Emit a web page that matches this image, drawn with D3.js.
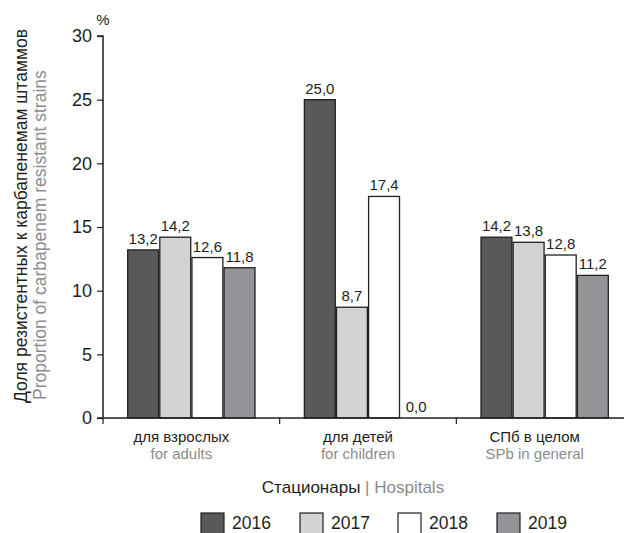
<!DOCTYPE html>
<html>
<head>
<meta charset="utf-8">
<script src="https://cdn.jsdelivr.net/npm/d3@7/dist/d3.min.js"></script>
<style>
  body { margin: 0; background: #fff; }
  svg { display: block; font-family: "Liberation Sans", Arial, sans-serif; }
</style>
</head>
<body>
<svg id="chart" width="624" height="533"></svg>
<script>
// Hospital groups (Russian / English captions)
const categoriesRu = ["для взрослых", "для детей", "СПб в целом"];
const categoriesEn = ["for adults", "for children", "SPb in general"];
const years = ["2016", "2017", "2018", "2019"];
// Share of carbapenem-resistant strains, %, per year across groups
const values2016 = [13.2, 25.0, 14.2];
const values2017 = [14.2, 8.7, 13.8];
const values2018 = [12.6, 17.4, 12.8];
const values2019 = [11.8, 0.0, 11.2];
const yTicks = [0, 5, 10, 15, 20, 25, 30];

const series = [values2016, values2017, values2018, values2019];
const colors = ["#58595b", "#d1d3d4", "#ffffff", "#929497"];
const stroke = "#231f20";
const grey = "#8a8c8e";

const svg = d3.select("#chart");

const x0 = d3.scaleBand().domain(d3.range(categoriesRu.length)).range([103, 633]);
const x1 = d3.scaleBand().domain(d3.range(years.length)).range([0, x0.bandwidth()]).paddingOuter(0.75);
const y = d3.scaleLinear().domain([0, 30]).range([418, 36]);

const fmt = v => v.toFixed(1).replace(".", ",");

// Bars
const groups = svg.append("g").selectAll("g")
  .data(categoriesRu.map((c, i) => i))
  .join("g")
  .attr("transform", i => `translate(${x0(i)},0)`);

groups.selectAll("rect")
  .data(i => series.map((s, k) => ({ k, v: s[i] })))
  .join("rect")
  .attr("x", d => x1(d.k) + 0.6)
  .attr("width", x1.bandwidth() - 1.2)
  .attr("y", d => y(d.v))
  .attr("height", d => y(0) - y(d.v))
  .attr("fill", d => colors[d.k])
  .attr("stroke", d => d.v > 0 ? stroke : "none")
  .attr("stroke-width", 1.3);

groups.selectAll("text.val")
  .data(i => series.map((s, k) => ({ k, v: s[i] })))
  .join("text")
  .attr("class", "val")
  .attr("x", d => x1(d.k) + x1.bandwidth() / 2)
  .attr("y", d => y(d.v) - 6)
  .attr("text-anchor", "middle")
  .attr("font-size", 15)
  .attr("fill", stroke)
  .text(d => fmt(d.v));

// Y axis
const yAxis = d3.axisLeft(y).tickValues(yTicks).tickSize(6).tickPadding(5).tickFormat(d3.format("d"));
const gy = svg.append("g").attr("transform", "translate(103,0)").call(yAxis);
gy.select(".domain").attr("stroke", stroke).attr("stroke-width", 1.5).attr("d", "M-6,36H0V418");
gy.selectAll(".tick line").attr("stroke", stroke).attr("stroke-width", 1.2);
gy.selectAll(".tick text").attr("font-size", 18).attr("fill", stroke)
  .attr("font-family", "Liberation Sans, Arial, sans-serif");

svg.append("text").attr("x", 103).attr("y", 25).attr("text-anchor", "middle")
  .attr("font-size", 15).attr("fill", stroke).text("%");

// X axis: ticks mark group boundaries
const gx = svg.append("g").attr("transform", "translate(0,418)");
gx.append("line").attr("x1", 97).attr("x2", 624).attr("y1", 0).attr("y2", 0)
  .attr("stroke", stroke).attr("stroke-width", 1.5);
gx.selectAll("line.tk")
  .data(d3.range(categoriesRu.length))
  .join("line")
  .attr("class", "tk")
  .attr("x1", i => x0(i)).attr("x2", i => x0(i))
  .attr("y1", 0).attr("y2", 6)
  .attr("stroke", stroke).attr("stroke-width", 1.2);

const labelX = i => x0(i) + x0.bandwidth() / 2 - 10;
gx.selectAll("text.ru")
  .data(categoriesRu)
  .join("text")
  .attr("class", "ru")
  .attr("x", (d, i) => labelX(i))
  .attr("y", 24)
  .attr("text-anchor", "middle")
  .attr("font-size", 15)
  .attr("fill", stroke)
  .text(d => d);

gx.selectAll("text.en")
  .data(categoriesEn)
  .join("text")
  .attr("class", "en")
  .attr("x", (d, i) => labelX(i))
  .attr("y", 41)
  .attr("text-anchor", "middle")
  .attr("font-size", 15)
  .attr("fill", grey)
  .text(d => d);

// X axis title
const xt = svg.append("text").attr("x", 353).attr("y", 493).attr("text-anchor", "middle").attr("font-size", 17);
xt.append("tspan").attr("fill", stroke).text("Стационары ");
xt.append("tspan").attr("fill", grey).text("| Hospitals");

// Y axis title
const yt = svg.append("g").attr("transform", "translate(0,403) rotate(-90)");
yt.append("text").attr("x", 0).attr("y", 27).attr("text-anchor", "start")
  .attr("font-size", 17.5).attr("fill", stroke).text("Доля резистентных к карбапенемам штаммов");
yt.append("text").attr("x", 3).attr("y", 46).attr("text-anchor", "start")
  .attr("font-size", 17.5).attr("fill", grey).text("Proportion of carbapenem resistant strains");

// Legend
const legendX = [201, 300, 398, 497];
const lg = svg.append("g").selectAll("g")
  .data(years)
  .join("g")
  .attr("transform", (d, i) => `translate(${legendX[i]},513)`);
lg.append("rect").attr("width", 23).attr("height", 22)
  .attr("fill", (d, i) => colors[i]).attr("stroke", stroke).attr("stroke-width", 1.2);
lg.append("text").attr("x", 31).attr("y", 16).attr("font-size", 17.5).attr("fill", stroke).text(d => d);
</script>
</body>
</html>
